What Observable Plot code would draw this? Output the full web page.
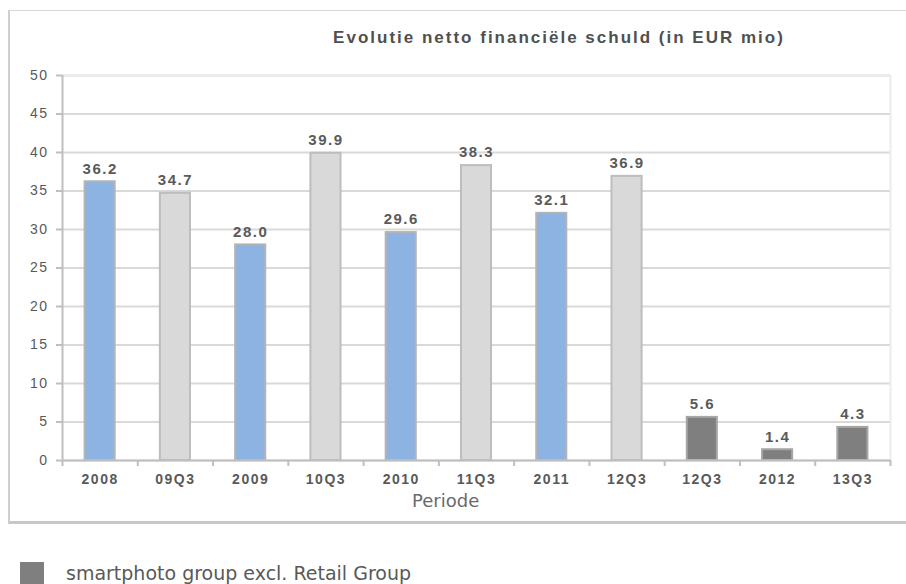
<!DOCTYPE html>
<html><head><meta charset="utf-8">
<script src="https://cdn.jsdelivr.net/npm/d3@7"></script>
<script src="https://cdn.jsdelivr.net/npm/@observablehq/plot@0.6"></script>
<style>
body{margin:0;background:#fff;}
#wrap{position:relative;width:906px;height:584px;overflow:hidden;background:#fff;}
#frame{position:absolute;left:8px;top:10px;width:960px;height:510px;border-left:2px solid #cfcfcf;border-top:1.5px solid #d6d6d6;border-bottom:3px solid #c8c8c8;}
#chart{position:absolute;left:0;top:0;}
#chart svg text{letter-spacing:1.5px;}
#title{position:absolute;top:28px;left:0;width:1118px;text-align:center;font:bold 17px "Liberation Sans",Arial,sans-serif;letter-spacing:2px;color:#505050;}
#xlabel{position:absolute;top:490px;left:412px;font:18px "DejaVu Sans",Verdana,sans-serif;color:#6a6a6a;}
#legend{position:absolute;left:20px;top:562px;font:19px "DejaVu Sans",Verdana,sans-serif;color:#595959;white-space:nowrap;}
#legend .sw{position:absolute;left:0;top:0;width:24px;height:24px;background:#7f7f7f;}
#legend .lb{position:absolute;left:46px;top:0px;}
</style></head>
<body>
<div id="wrap">
  <div id="frame"></div>
  <div id="chart"></div>
  <div id="title">Evolutie netto financiële schuld (in EUR mio)</div>
  <div id="xlabel">Periode</div>
  <div id="legend"><div class="sw"></div><div class="lb">smartphoto group excl. Retail Group</div></div>
</div>
<script>
const labels = ["2008","09Q3","2009","10Q3","2010","11Q3","2011","12Q3","12Q3","2012","13Q3"];
const values = [36.2, 34.7, 28.0, 39.9, 29.6, 38.3, 32.1, 36.9, 5.6, 1.4, 4.3];
const groups = ["jaar","kwartaal","jaar","kwartaal","jaar","kwartaal","jaar","kwartaal","smartphoto","smartphoto","smartphoto"];
const yTicks = [0,5,10,15,20,25,30,35,40,45,50];

const data = labels.map((l, i) => ({i, label: l, v: values[i], g: groups[i]}));
const styles = {
  jaar: {fill: "#8db3e2", stroke: "#b4b4b4"},
  kwartaal: {fill: "#d9d9d9", stroke: "#bdbdbd"},
  smartphoto: {fill: "#7f7f7f", stroke: "#a6a6a6"}
};
const bars = Object.keys(styles).map(g => Plot.rectY(data.filter(d => d.g === g), {
  x1: d => d.i + 0.3, x2: d => d.i + 0.7, y1: 0, y2: "v",
  fill: styles[g].fill, stroke: styles[g].stroke, strokeWidth: 2, inset: 0
}));

const chart = Plot.plot({
  width: 906, height: 520,
  marginLeft: 62, marginRight: 16, marginTop: 75, marginBottom: 60,
  style: {fontFamily: "'Liberation Sans', Arial, sans-serif", background: "transparent", color: "#595959"},
  x: {domain: [0, labels.length], axis: null},
  y: {domain: [0, 50], axis: null},
  marks: [
    Plot.ruleY(yTicks.filter(t => t < 50), {stroke: "#d9d9d9", strokeWidth: 2}),
    Plot.ruleY([50], {stroke: "#ececec", strokeWidth: 3}),
    Plot.ruleX([labels.length], {stroke: "#ececec", strokeWidth: 2}),
    ...bars,
    Plot.ruleX([0], {stroke: "#bfbfbf", strokeWidth: 2}),
    Plot.ruleY([0], {stroke: "#bfbfbf", strokeWidth: 2}),
    Plot.axisY({ticks: yTicks, tickSize: 6, tickPadding: 8, stroke: "#bfbfbf", strokeWidth: 2, fontSize: 14, fill: "#595959", label: null}),
    Plot.axisX({ticks: d3.range(labels.length + 1), tickSize: 6, tickFormat: () => "", stroke: "#bfbfbf", strokeWidth: 2, label: null}),
    Plot.axisX({ticks: d3.range(labels.length).map(i => i + 0.5), tickSize: 0, tickPadding: 14, tickFormat: v => labels[Math.floor(v)], fontSize: 14, fontWeight: "bold", fill: "#595959", label: null}),
    Plot.text(data, {x: d => d.i + 0.5, y: "v", text: d => d.v.toFixed(1), dy: -13, fontSize: 15, fontWeight: "bold", fill: "#5a5a5a"})
  ]
});
document.getElementById("chart").appendChild(chart);
</script>
</body></html>
